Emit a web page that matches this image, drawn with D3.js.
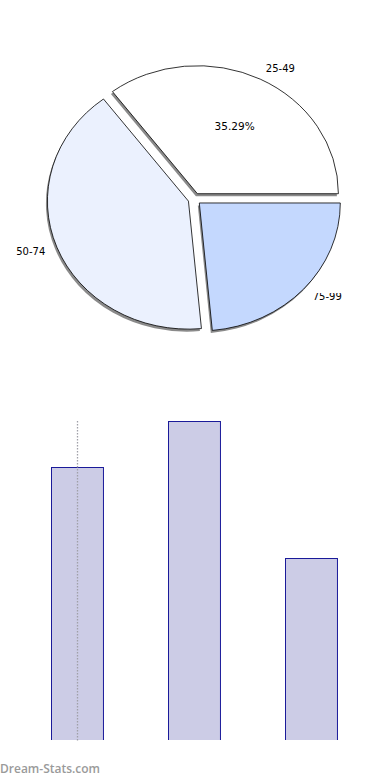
<!DOCTYPE html>
<html>
<head>
<meta charset="utf-8">
<script src="https://cdn.jsdelivr.net/npm/d3@7/dist/d3.min.js"></script>
<style>
  body { margin: 0; background: #fff; }
  svg { display: block; font-family: 'DejaVu Sans', sans-serif; }
</style>
</head>
<body>
<div id="chartArea"></div>
<script>
var categories = ['25-49', '50-74', '75-99'];
var counts = [6, 7, 4];
var sliceColors = ['#ffffff', '#ebf1fe', '#c4d8fe'];

var w = 390, h = 780;

var svg = d3.select('#chartArea').append('svg')
    .attr('width', w)
    .attr('height', h);

// ---- pie (elliptical, exploded, with shadow) ----
var cx = 194.5, cy = 199, rx = 141, ry = 128;
var sy = ry / rx;
var explode = 6.5;
var total = d3.sum(counts);

var pie = d3.pie().sort(null)
    .startAngle(Math.PI / 2)
    .endAngle(Math.PI / 2 - 2 * Math.PI);

var arcs = pie(counts);
var arc = d3.arc().innerRadius(0).outerRadius(rx);

function midDir(d) {
    var a = (d.startAngle + d.endAngle) / 2;
    return [Math.sin(a), -Math.cos(a)];
}

var pieG = svg.append('g');

// shadows first
pieG.selectAll('g.shadow')
    .data(arcs)
    .enter()
    .append('g')
    .attr('class', 'shadow')
    .attr('transform', function(d) {
        var m = midDir(d);
        return 'translate(' + (cx + m[0] * explode - 1.5) + ',' + (cy + m[1] * explode * sy + 2.5) + ') scale(1,' + sy + ')';
    })
    .append('path')
    .attr('d', arc)
    .attr('fill', '#8a8a8a');

pieG.selectAll('g.slice')
    .data(arcs)
    .enter()
    .append('g')
    .attr('class', 'slice')
    .attr('transform', function(d) {
        var m = midDir(d);
        return 'translate(' + (cx + m[0] * explode) + ',' + (cy + m[1] * explode * sy) + ') scale(1,' + sy + ')';
    })
    .append('path')
    .attr('d', arc)
    .attr('fill', function(d, i) { return sliceColors[i]; })
    .attr('stroke', '#000')
    .attr('stroke-width', 0.8)
    .attr('vector-effect', 'non-scaling-stroke');

// clip for the partly hidden lower label
svg.append('clipPath').attr('id', 'lblClip')
    .append('rect').attr('x', 0).attr('y', 293).attr('width', w).attr('height', 40);

var labelR = 160;
pieG.selectAll('text.lbl')
    .data(arcs)
    .enter()
    .append('text')
    .attr('class', 'lbl')
    .attr('x', function(d) { return cx + midDir(d)[0] * labelR; })
    .attr('y', function(d) { return cy + midDir(d)[1] * labelR * sy; })
    .attr('dy', '0.35em')
    .attr('text-anchor', function(d) { return midDir(d)[0] < 0 ? 'end' : 'start'; })
    .attr('clip-path', function(d, i) { return i === 2 ? 'url(#lblClip)' : null; })
    .style('font-size', '10px')
    .attr('fill', '#000')
    .text(function(d, i) { return categories[i]; });

// percent label (only the first slice shows one)
var pctR = 90;
pieG.selectAll('text.pct')
    .data(arcs.slice(0, 1))
    .enter()
    .append('text')
    .attr('class', 'pct')
    .attr('x', function(d) { return cx + midDir(d)[0] * pctR; })
    .attr('y', function(d) { return cy + midDir(d)[1] * pctR * sy; })
    .attr('dy', '0.35em')
    .attr('text-anchor', 'middle')
    .style('font-size', '10.5px')
    .text(function(d) { return (d.value / total * 100).toFixed(2) + '%'; });

// ---- bar chart ----
var xScale = d3.scaleBand()
    .domain(categories)
    .range([51, 337])
    .paddingInner(0.556)
    .paddingOuter(0);

var yScale = d3.scaleLinear()
    .domain([0, d3.max(counts)])
    .range([740, 421]);

svg.selectAll('rect.bar')
    .data(counts)
    .enter()
    .append('rect')
    .attr('class', 'bar')
    .attr('x', function(d, i) { return Math.round(xScale(categories[i])) + 0.5; })
    .attr('y', function(d) { return Math.round(yScale(d)) + 0.5; })
    .attr('width', xScale.bandwidth())
    .attr('height', function(d) { return 740 - Math.round(yScale(d)) + 2; })
    .attr('fill', '#ccccE6')
    .attr('stroke', '#1a1a99')
    .attr('stroke-width', 1);

// open bottom on the bars
svg.append('rect')
    .attr('x', 0).attr('y', 740).attr('width', w).attr('height', 10)
    .attr('fill', '#fff');

var gx = Math.round(xScale(categories[0]) + xScale.bandwidth() / 2) + 0.5;
svg.append('line')
    .attr('x1', gx).attr('x2', gx)
    .attr('y1', yScale.range()[1]).attr('y2', yScale.range()[0] + 2)
    .attr('stroke', '#a0a0a8')
    .attr('stroke-width', 1.3)
    .attr('stroke-dasharray', '1.5,1.5');

svg.append('text')
    .attr('x', 0)
    .attr('y', 773)
    .style('font-family', "'Open Sans', sans-serif")
    .style('font-size', '12px')
    .style('font-weight', 600)
    .attr('fill', '#9a9a9a')
    .text('Dream-Stats.com');
</script>
</body>
</html>
